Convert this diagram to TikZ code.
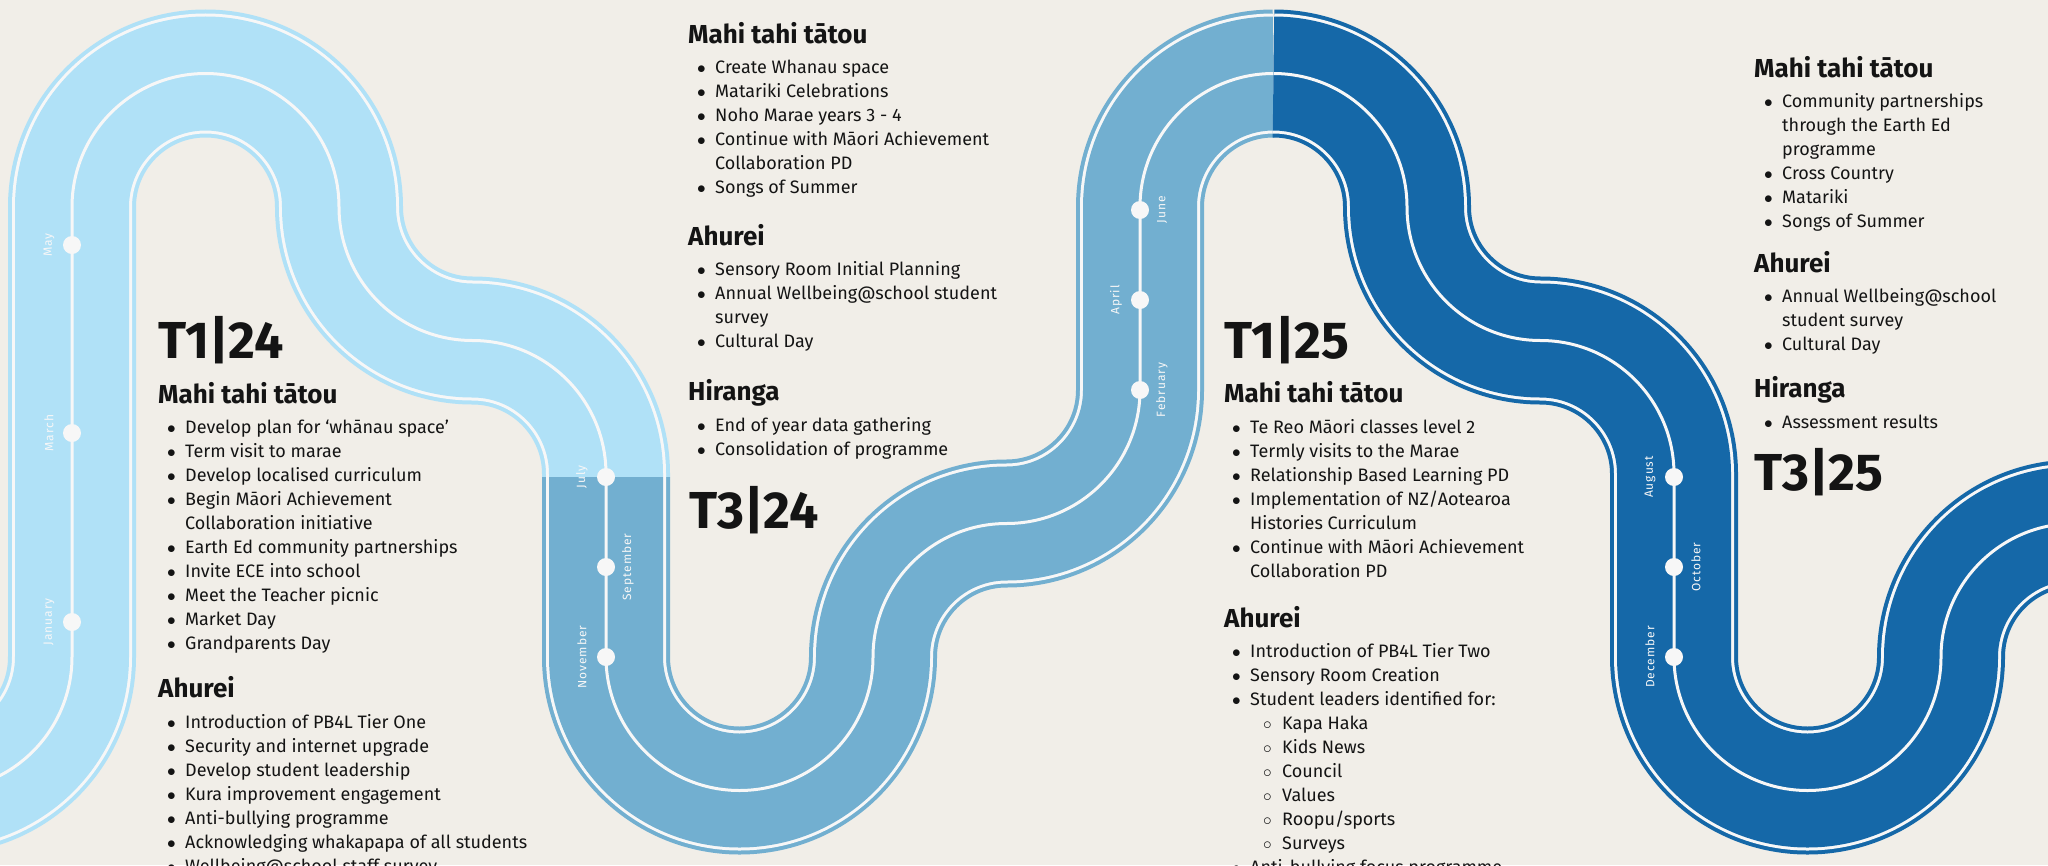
\documentclass[tikz,border=0pt]{standalone}
\usepackage{fontspec}
\setmainfont{Fira Sans}

\definecolor{paper}{HTML}{F1EEE8}
\definecolor{roadlight}{HTML}{B0E1F7}
\definecolor{roadmid}{HTML}{72AFD0}
\definecolor{roaddark}{HTML}{1568A8}
\definecolor{lane}{HTML}{F7F7F7}
\definecolor{ink}{HTML}{141414}

% list rows: bullet, continuation, sub-bullet
\newcommand{\bitem}[1]{\makebox[18pt][l]{$\bullet$}#1\\}
\newcommand{\bmore}[1]{\hspace*{18pt}#1\\}
\newcommand{\bsub}[1]{\hspace*{31pt}\makebox[19pt][l]{$\circ$}#1\\}

\tikzset{
    road/.style={draw=#1, line width=128pt,
        postaction={draw=lane, line width=120pt},
        postaction={draw=#1, line width=114pt},
        postaction={draw=lane, line width=3pt}},
    stop/.style={circle, fill=lane, inner sep=0pt, minimum size=18pt},
    month/.style={rotate=90, inner sep=0pt, text=lane,
        font=\fontsize{12}{14}\selectfont\addfontfeature{LetterSpace=8}},
    term/.style={anchor=base west, inner sep=0pt, text=ink,
        font=\fontsize{52}{60}\selectfont\bfseries},
    head/.style={anchor=base west, inner sep=0pt, text=ink,
        font=\fontsize{26}{30}\selectfont\bfseries},
    list/.style={anchor=base west, inner sep=0pt, text=ink,
        font=\fontsize{18}{24}\selectfont}
}

\begin{document}
\begin{tikzpicture}[x=1pt, y=-1pt]

\useasboundingbox (0,0) rectangle (2048,865);
\fill[paper] (0,0) rectangle (2048,865);
\clip (0,0) rectangle (2048,865);

% road, 2024 first half
\draw[road=roadlight] (-200,790.5) -- (-61.5,790.5)
    arc[start angle=-90, end angle=0, radius=133.5pt] -- (72,207)
    arc[start angle=180, end angle=0, radius=133.5pt]
    arc[start angle=180, end angle=270, radius=133.5pt]
    arc[start angle=90, end angle=0, radius=133.5pt] -- (606,477);

% road, 2024 second half
\draw[road=roadmid] (606,477) -- (606,657)
    arc[start angle=180, end angle=360, radius=133.5pt]
    arc[start angle=180, end angle=90, radius=133.5pt]
    arc[start angle=-90, end angle=0, radius=133.5pt] -- (1140,207)
    arc[start angle=180, end angle=90, radius=133.5pt];

% road, 2025
\draw[road=roaddark] (1273.5,73.5)
    arc[start angle=90, end angle=0, radius=133.5pt]
    arc[start angle=180, end angle=270, radius=133.5pt]
    arc[start angle=90, end angle=0, radius=133.5pt] -- (1674,657)
    arc[start angle=180, end angle=360, radius=133.5pt]
    arc[start angle=180, end angle=90, radius=133.5pt] -- (2150,523.5);

% months along the road
\foreach \mon/\x/\y/\dx in {May/72/245/-23, March/72/433/-23, January/72/622/-23,
        July/606/477/-24, September/606/567/22, November/606/657/-24,
        June/1140/210/22, April/1140/300/-24, February/1140/390/22,
        August/1674/477/-24, October/1674/567/22, December/1674/657/-24} {
    \node[stop] (stop-\mon) at (\x,\y) {};
    \node[month] (label-\mon) at (\x+\dx,\y) {\mon};
}

% T1|24
\node[term] (t124) at (158,358) {T1|24};
\node[head] (t124-mahi) at (158,403) {Mahi tahi tātou};
\node[list] (t124-mahi-list) at (167,433) {\begin{tabular}[t]{@{}l@{}}
    \bitem{Develop plan for ‘whānau space’}
    \bitem{Term visit to marae}
    \bitem{Develop localised curriculum}
    \bitem{Begin Māori Achievement}
    \bmore{Collaboration initiative}
    \bitem{Earth Ed community partnerships}
    \bitem{Invite ECE into school}
    \bitem{Meet the Teacher picnic}
    \bitem{Market Day}
    \bitem{Grandparents Day}
\end{tabular}};
\node[head] (t124-ahurei) at (158,697) {Ahurei};
\node[list] (t124-ahurei-list) at (167,728) {\begin{tabular}[t]{@{}l@{}}
    \bitem{Introduction of PB4L Tier One}
    \bitem{Security and internet upgrade}
    \bitem{Develop student leadership}
    \bitem{Kura improvement engagement}
    \bitem{Anti-bullying programme}
    \bitem{Acknowledging whakapapa of all students}
    \bitem{Wellbeing@school staff survey}
\end{tabular}};

% T3|24
\node[head] (t324-mahi) at (688,43) {Mahi tahi tātou};
\node[list] (t324-mahi-list) at (697,73) {\begin{tabular}[t]{@{}l@{}}
    \bitem{Create Whanau space}
    \bitem{Matariki Celebrations}
    \bitem{Noho Marae years 3 - 4}
    \bitem{Continue with Māori Achievement}
    \bmore{Collaboration PD}
    \bitem{Songs of Summer}
\end{tabular}};
\node[head] (t324-ahurei) at (688,245) {Ahurei};
\node[list] (t324-ahurei-list) at (697,275) {\begin{tabular}[t]{@{}l@{}}
    \bitem{Sensory Room Initial Planning}
    \bitem{Annual Wellbeing@school student}
    \bmore{survey}
    \bitem{Cultural Day}
\end{tabular}};
\node[head] (t324-hiranga) at (688,400) {Hiranga};
\node[list] (t324-hiranga-list) at (697,431) {\begin{tabular}[t]{@{}l@{}}
    \bitem{End of year data gathering}
    \bitem{Consolidation of programme}
\end{tabular}};
\node[term] (t324) at (689,528) {T3|24};

% T1|25
\node[term] (t125) at (1224,358) {T1|25};
\node[head] (t125-mahi) at (1224,402) {Mahi tahi tātou};
\node[list] (t125-mahi-list) at (1232,433) {\begin{tabular}[t]{@{}l@{}}
    \bitem{Te Reo Māori classes level 2}
    \bitem{Termly visits to the Marae}
    \bitem{Relationship Based Learning PD}
    \bitem{Implementation of NZ/Aotearoa}
    \bmore{Histories Curriculum}
    \bitem{Continue with Māori Achievement}
    \bmore{Collaboration PD}
\end{tabular}};
\node[head] (t125-ahurei) at (1224,627) {Ahurei};
\node[list] (t125-ahurei-list) at (1232,657) {\begin{tabular}[t]{@{}l@{}}
    \bitem{Introduction of PB4L Tier Two}
    \bitem{Sensory Room Creation}
    \bitem{Student leaders identified for:}
    \bsub{Kapa Haka}
    \bsub{Kids News}
    \bsub{Council}
    \bsub{Values}
    \bsub{Roopu/sports}
    \bsub{Surveys}
    \bitem{Anti-bullying focus programme}
\end{tabular}};

% T3|25
\node[head] (t325-mahi) at (1754,77) {Mahi tahi tātou};
\node[list] (t325-mahi-list) at (1764,107) {\begin{tabular}[t]{@{}l@{}}
    \bitem{Community partnerships}
    \bmore{through the Earth Ed}
    \bmore{programme}
    \bitem{Cross Country}
    \bitem{Matariki}
    \bitem{Songs of Summer}
\end{tabular}};
\node[head] (t325-ahurei) at (1754,272) {Ahurei};
\node[list] (t325-ahurei-list) at (1764,302) {\begin{tabular}[t]{@{}l@{}}
    \bitem{Annual Wellbeing@school}
    \bmore{student survey}
    \bitem{Cultural Day}
\end{tabular}};
\node[head] (t325-hiranga) at (1754,397) {Hiranga};
\node[list] (t325-hiranga-list) at (1764,428) {\begin{tabular}[t]{@{}l@{}}
    \bitem{Assessment results}
\end{tabular}};
\node[term] (t325) at (1754,490) {T3|25};

\end{tikzpicture}
\end{document}
